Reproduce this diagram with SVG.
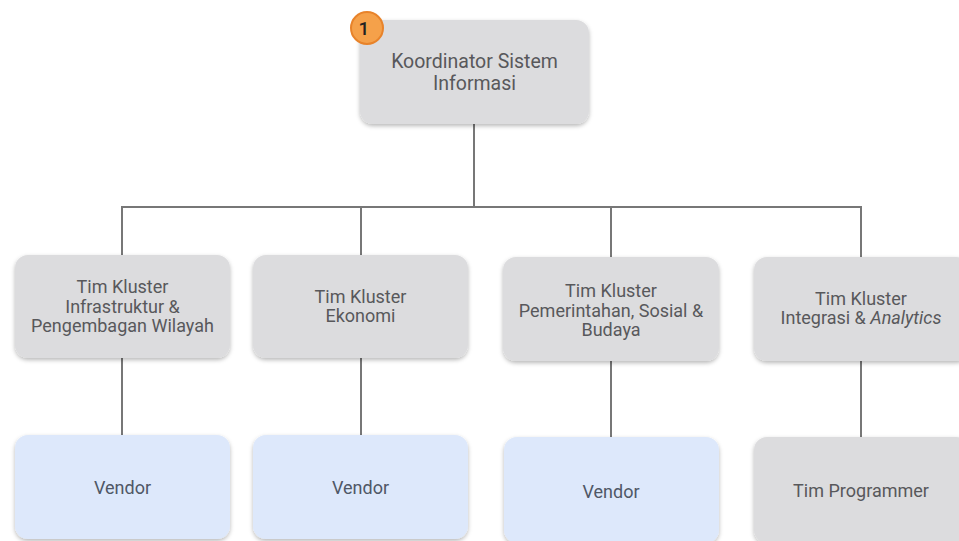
<svg xmlns="http://www.w3.org/2000/svg" width="959" height="541" viewBox="0 0 959 541">
<defs>
<filter id="sh" x="-10%" y="-10%" width="120%" height="130%">
<feDropShadow dx="0" dy="2" stdDeviation="2" flood-color="#000" flood-opacity="0.28"/>
</filter>
</defs>
<style>
.g{fill:#dcdcde;filter:url(#sh)}
.b{fill:#dde8fb;filter:url(#sh)}
.t{font-family:Roboto,"Liberation Sans",sans-serif;font-size:18px;fill:#58585b;text-anchor:middle}
.tl{font-size:19.5px}
.tb{fill:#4f5766}
.c{stroke:#777;stroke-width:2;fill:none}
</style>
<rect width="959" height="541" fill="#fff"/>
<g id="connectors">
<path class="c" d="M474 124V207M122 207H862M122 206V255M361 206V255M611 206V257M861 206V257"/>
<path class="c" d="M122 358V435M361 358V435M611 361V437M861 361V437"/>
</g>
<g id="n0">
<rect class="g" x="360" y="20" width="229" height="104" rx="13"/>
<text class="t tl" x="474.5" y="68">Koordinator Sistem</text>
<text class="t tl" x="474.5" y="90">Informasi</text>
</g>
<g id="badge">
<circle cx="367" cy="28" r="16" fill="#f5a14a" stroke="#e8832a" stroke-width="2"/>
<text x="364" y="35" font-family="Roboto,'Liberation Sans',sans-serif" font-size="19" font-weight="500" fill="#222" text-anchor="middle">1</text>
</g>
<g id="n1">
<rect class="g" x="15" y="255" width="215" height="103" rx="13"/>
<text class="t" x="122.5" y="293">Tim Kluster</text>
<text class="t" x="122.5" y="313">Infrastruktur &amp;</text>
<text class="t" x="122.5" y="332">Pengembagan Wilayah</text>
</g>
<g id="n2">
<rect class="g" x="253" y="255" width="215" height="103" rx="13"/>
<text class="t" x="360.5" y="303">Tim Kluster</text>
<text class="t" x="360.5" y="322">Ekonomi</text>
</g>
<g id="n3">
<rect class="g" x="503" y="257" width="216" height="104" rx="13"/>
<text class="t" x="611" y="297">Tim Kluster</text>
<text class="t" x="611" y="317">Pemerintahan, Sosial &amp;</text>
<text class="t" x="611" y="336">Budaya</text>
</g>
<g id="n4">
<rect class="g" x="754" y="257" width="215" height="104" rx="13"/>
<text class="t" x="861" y="305">Tim Kluster</text>
<text class="t" x="861" y="324">Integrasi &amp; <tspan font-style="italic">Analytics</tspan></text>
</g>
<g id="v1">
<rect class="b" x="15" y="435" width="215" height="104" rx="13"/>
<text class="t tb" x="122.5" y="494">Vendor</text>
</g>
<g id="v2">
<rect class="b" x="253" y="435" width="215" height="104" rx="13"/>
<text class="t tb" x="360.5" y="494">Vendor</text>
</g>
<g id="v3">
<rect class="b" x="504" y="437" width="215" height="106" rx="13"/>
<text class="t tb" x="611" y="498">Vendor</text>
</g>
<g id="v4">
<rect class="g" x="754" y="437" width="215" height="106" rx="13"/>
<text class="t" x="861" y="497">Tim Programmer</text>
</g>
</svg>
